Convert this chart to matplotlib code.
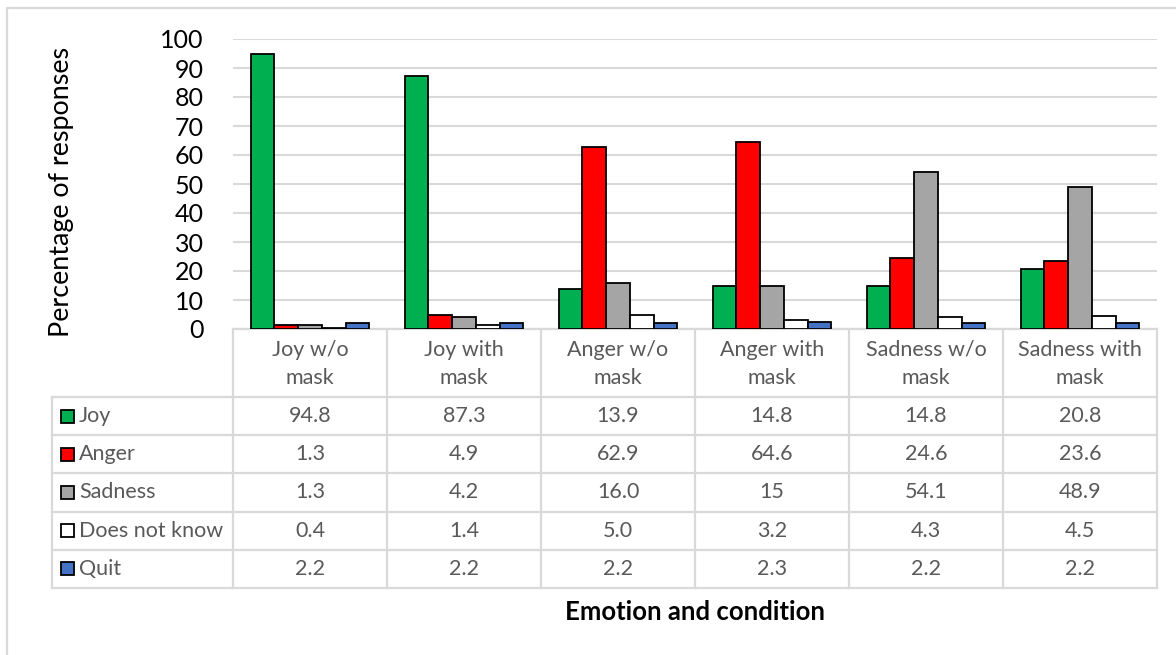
import matplotlib
matplotlib.use("Agg")
import matplotlib.pyplot as plt
import numpy as np
from matplotlib.patches import Rectangle

plt.rcParams["font.family"] = ["Lato", "DejaVu Sans"]

conditions = ["Joy w/o\nmask", "Joy with\nmask", "Anger w/o\nmask",
              "Anger with\nmask", "Sadness w/o\nmask", "Sadness with\nmask"]
series = ["Joy", "Anger", "Sadness", "Does not know", "Quit"]
joy = [94.8, 87.3, 13.9, 14.8, 14.8, 20.8]
anger = [1.3, 4.9, 62.9, 64.6, 24.6, 23.6]
sadness = [1.3, 4.2, 16.0, 15, 54.1, 48.9]
dont_know = [0.4, 1.4, 5.0, 3.2, 4.3, 4.5]
quit_ = [2.2, 2.2, 2.2, 2.3, 2.2, 2.2]
cell_text = [
    ["94.8", "87.3", "13.9", "14.8", "14.8", "20.8"],
    ["1.3", "4.9", "62.9", "64.6", "24.6", "23.6"],
    ["1.3", "4.2", "16.0", "15", "54.1", "48.9"],
    ["0.4", "1.4", "5.0", "3.2", "4.3", "4.5"],
    ["2.2", "2.2", "2.2", "2.3", "2.2", "2.2"],
]
colors = ["#00B050", "#FF0000", "#A5A5A5", "#FFFFFF", "#4472C4"]

W, H = 1176, 655
fig = plt.figure(figsize=(W / 100, H / 100), dpi=100)

# pixel-space helper axes for the frame and data table
bg = fig.add_axes([0, 0, 1, 1])
bg.set_xlim(0, W)
bg.set_ylim(H, 0)
bg.axis("off")

grid_c = "#D9D9D9"
text_c = "#595959"

# outer chart frame
bg.plot([7, 7, W + 5], [H + 5, 8, 8], color=grid_c, lw=1.6, solid_capstyle="butt")

# plot area
x_left, x_right, y_top, y_zero = 233, 1157, 39, 329
ax = fig.add_axes([x_left / W, 1 - y_zero / H, (x_right - x_left) / W, (y_zero - y_top) / H])
ax.set_zorder(2)
ax.patch.set_alpha(0)

n = len(conditions)
x = np.arange(n)
bw = 0.154
values = [joy, anger, sadness, dont_know, quit_]
for i, (vals, c) in enumerate(zip(values, colors)):
    ax.bar(x + (i - 2) * bw, vals, width=bw, color=c, edgecolor="black",
           linewidth=1.3, zorder=3)

ax.set_xlim(-0.5, n - 0.5)
ax.set_ylim(0, 100)
ax.set_yticks(np.arange(0, 101, 10))
ax.yaxis.grid(True, color=grid_c, lw=1.5, zorder=0)
ax.set_xticks([])
for s in ax.spines.values():
    s.set_visible(False)
ax.tick_params(axis="y", length=0, labelsize=18, pad=21, labelcolor="black")

bg.text(62, 192, "Percentage of responses", rotation=90, ha="center",
        va="center", fontsize=19.4, color="black")

# data table
col_w = (x_right - x_left) / n
row_top = 397
row_h = 38.2
tbl_left = 52
n_rows = len(series)
tbl_bottom = row_top + n_rows * row_h

lw_t = 1.6
for k in range(n + 1):
    xx = x_left + k * col_w
    bg.plot([xx, xx], [y_zero, tbl_bottom], color=grid_c, lw=lw_t)
bg.plot([tbl_left, tbl_left], [row_top, tbl_bottom], color=grid_c, lw=lw_t)
bg.plot([x_left, x_right], [y_zero, y_zero], color=grid_c, lw=lw_t)
for r in range(n_rows + 1):
    yy = row_top + r * row_h
    bg.plot([tbl_left, x_right], [yy, yy], color=grid_c, lw=lw_t)

for k, lab in enumerate(conditions):
    cx = x_left + (k + 0.5) * col_w
    bg.text(cx, (y_zero + row_top) / 2 + 1, lab, ha="center", va="center",
            fontsize=15.5, color=text_c, linespacing=1.5)

for r, name in enumerate(series):
    cy = row_top + (r + 0.5) * row_h
    bg.add_patch(Rectangle((60.5, cy - 6.5), 13, 13, facecolor=colors[r],
                           edgecolor="black", lw=1.3))
    bg.text(79, cy, name, ha="left", va="center", fontsize=15.5, color=text_c)
    for k in range(n):
        cx = x_left + (k + 0.5) * col_w
        bg.text(cx, cy, cell_text[r][k], ha="center", va="center",
                fontsize=15.5, color=text_c)

bg.text((x_left + x_right) / 2, 612, "Emotion and condition", ha="center",
        va="center", fontsize=18.5, fontweight="bold", color="black")

fig.savefig("out.png", dpi=100)
